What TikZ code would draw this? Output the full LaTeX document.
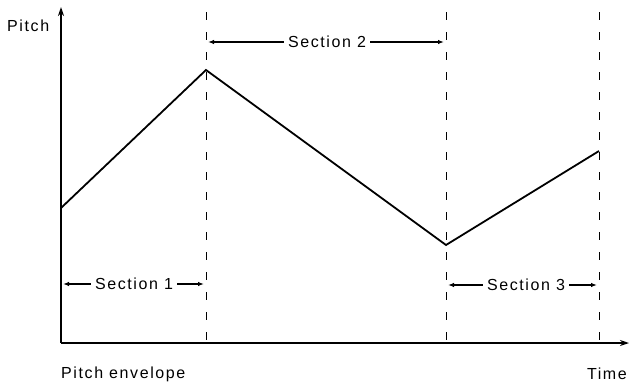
\documentclass[tikz,border=0pt]{standalone}
\usepackage{fontspec}
\setmainfont{Liberation Sans}[LetterSpace=10]
\usetikzlibrary{arrows.meta}
\begin{document}
\begin{tikzpicture}[x=1pt,y=-1pt,
  axis/.style={line width=1.8pt,-{Stealth[length=9pt,width=6pt]}},
  env/.style={line width=1.8pt,line join=miter},
  guide/.style={line width=1pt,dash pattern=on 8pt off 12pt},
  span/.style={line width=1.2pt,{Latex[length=6pt,width=4.5pt]}-{Latex[length=6pt,width=4.5pt]}},
  lbl/.style={font=\fontsize{16}{18}\selectfont,inner sep=1pt},
  seclbl/.style={font=\fontsize{16}{18}\selectfont,fill=white,inner sep=4pt}]
\useasboundingbox (0,0) rectangle (629,383);
% axes
\coordinate (O) at (61,343);
\coordinate (ytop) at (61,7);
\coordinate (xend) at (629,343);
\draw[axis] (O) -- (ytop);
\draw[axis] (O) -- (xend);
% guides
\coordinate (g1t) at (206,12); \coordinate (g1b) at (206,343);
\coordinate (g2t) at (446,12); \coordinate (g2b) at (446,343);
\coordinate (g3t) at (599,12); \coordinate (g3b) at (599,343);
\draw[guide] (g1t) -- (g1b);
\draw[guide] (g2t) -- (g2b);
\draw[guide] (g3t) -- (g3b);
% envelope
\coordinate (p0) at (61,208);
\coordinate (p1) at (206,70);
\coordinate (p2) at (446,245);
\coordinate (p3) at (599,151);
\draw[env] (p0) -- (p1) -- (p2) -- (p3);
% sections
\coordinate (s1a) at (63,284); \coordinate (s1b) at (204,284);
\coordinate (s2a) at (208,42); \coordinate (s2b) at (444,42);
\coordinate (s3a) at (448,285); \coordinate (s3b) at (597,285);
\draw[span] (s1a) -- (s1b);
\draw[span] (s2a) -- (s2b);
\draw[span] (s3a) -- (s3b);
\node[seclbl] (t1) at (134,284) {Section 1};
\node[seclbl] (t2) at (327,42) {Section 2};
\node[seclbl] (t3) at (526,285) {Section 3};
% labels
\node[lbl,anchor=west] (pitch) at (6,26) {Pitch};
\node[lbl,anchor=west] (penv) at (60,374) {Pitch envelope};
\node[lbl,anchor=east] (time) at (628,374) {Time};
\end{tikzpicture}
\end{document}
